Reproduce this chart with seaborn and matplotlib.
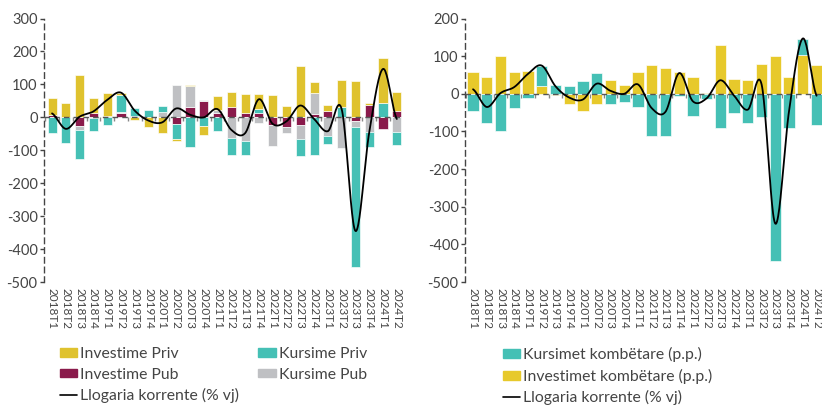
import numpy as np
import pandas as pd
import matplotlib
matplotlib.use("Agg")
import matplotlib.pyplot as plt
import seaborn as sns
from matplotlib.patches import Patch
from matplotlib.lines import Line2D

# ---------------- data ----------------
periods = ["2018T1", "2018T2", "2018T3", "2018T4", "2019T1", "2019T2", "2019T3", "2019T4",
           "2020T1", "2020T2", "2020T3", "2020T4", "2021T1", "2021T2", "2021T3", "2021T4",
           "2022T1", "2022T2", "2022T3", "2022T4", "2023T1", "2023T2", "2023T3", "2023T4",
           "2024T1", "2024T2"]

investime_priv = [51, 44, 129, 46, 68, 7, -8, -30, -47, -4, 4, -27, 44, 48, 58, 45,
                  68, 35, 157, 31, 20, 82, 110, 5, 136, 57]
investime_pub = [7, 0, -26, 12, 0, 13, 5, 0, 0, -20, 32, 50, 14, 30, 12, 14,
                 -24, -30, -23, 10, 18, 0, -10, 38, -35, 19]
kursime_priv = [-47, -78, -89, -40, -22, 50, 24, 22, 17, -47, -89, -26, -41, -51, -43, 12,
                0, 0, -52, -115, -23, 32, -427, -45, 44, -37]
kursime_pub = [0, 0, -12, -2, 5, 4, 0, 0, 17, 99, 62, 3, 7, -64, -72, -18,
               -62, -18, -42, 65, -57, -94, -18, -44, 0, -46]

llogaria_korrente = [12, -35, 2, 18, 53, 75, 20, -10, -15, 27, 8, 0, 25, -38, -48, 55,
                     -20, -12, 36, -5, -42, 25, -345, -45, 147, -5]

kursimet_kombetare = [-45, -77, -98, -39, -11, 52, 24, 22, 33, 55, -28, -23, -34, -113, -111, -5,
                      -60, -13, -92, -52, -77, -62, -445, -90, 42, -83]
investimet_kombetare = [58, 44, 101, 58, 61, 22, -3, -28, -45, -27, 36, 24, 58, 76, 69, 59,
                        44, 3, 130, 40, 37, 79, 101, 44, 103, 77]

# ---------------- style ----------------
YELLOW_L = "#DFC22E"
YELLOW_R = "#E7C92B"
TEAL = "#45C0B5"
MAROON = "#8A1A4B"
GREY = "#BFC0C3"
TXT = "#444444"

sns.set_theme(style="white")
plt.rcParams["font.family"] = ["Lato", "DejaVu Sans"]
plt.rcParams["axes.unicode_minus"] = False

fig = plt.figure(figsize=(8.22, 4.07), dpi=100)
axL = fig.add_axes([0.0541, 0.307, 0.4362, 0.6475])
axR = fig.add_axes([0.5663, 0.307, 0.4346, 0.6475])

n = len(periods)
x = np.arange(n)


def stacked(ax, series, colors, width):
    pos = np.zeros(n)
    neg = np.zeros(n)
    for vals, c in zip(series, colors):
        v = np.asarray(vals, dtype=float)
        bottom = np.where(v >= 0, pos, neg)
        ax.bar(x, v, bottom=bottom, width=width, color=c,
               edgecolor=(1, 1, 1, 0.65), linewidth=0.7, zorder=2)
        pos += np.where(v > 0, v, 0)
        neg += np.where(v < 0, v, 0)


def smooth(y, k=24):
    y = np.asarray(y, dtype=float)
    xs, ys = [], []
    m = len(y)
    for i in range(m - 1):
        p0 = y[i - 1] if i > 0 else y[i]
        p3 = y[i + 2] if i + 2 < m else y[i + 1]
        p1, p2 = y[i], y[i + 1]
        c1 = p1 + (p2 - p0) / 6.0
        c2 = p2 - (p3 - p1) / 6.0
        t = np.linspace(0, 1, k, endpoint=(i == m - 2))
        ys.append((1 - t) ** 3 * p1 + 3 * (1 - t) ** 2 * t * c1 + 3 * (1 - t) * t ** 2 * c2 + t ** 3 * p2)
        xs.append(i + t)
    return np.concatenate(xs), np.concatenate(ys)


def style_axis(ax, ymin, ymax):
    ax.set_xlim(-0.55, n - 0.55)
    ax.set_ylim(ymin, ymax)
    ax.set_yticks(np.arange(ymin, ymax + 1, 100))
    ax.set_yticklabels([str(v) for v in range(ymin, ymax + 1, 100)])
    ax.set_xticks(x)
    ax.set_xticklabels(periods, rotation=270, fontsize=8.5, color=TXT)
    ax.tick_params(axis="x", length=0, pad=4)
    ax.tick_params(axis="y", left=True, length=3, width=1, color=TXT, labelsize=10.5,
                   labelcolor=TXT, pad=2, direction="out")
    for s in ["top", "right", "bottom"]:
        ax.spines[s].set_visible(False)
    ax.spines["left"].set_linestyle((0, (4, 3)))
    ax.spines["left"].set_color(TXT)
    ax.spines["left"].set_linewidth(1.0)
    ax.axhline(0, color="#555555", linestyle=(0, (4, 3)), linewidth=1.0, zorder=3)
    frac = (0 - ymin) / (ymax - ymin)
    sec = ax.secondary_xaxis(frac)
    sec.set_xticks(np.arange(-0.5, n, 1.0))
    sec.set_xticklabels([])
    for s in sec.spines.values():
        s.set_visible(False)
    sec.xaxis.set_ticks_position("bottom")
    sec.tick_params(axis="x", length=3, width=1, color="#888888", direction="out")
    ax.grid(False)


# ---------------- left chart ----------------
stacked(axL, [investime_pub, kursime_pub, kursime_priv, investime_priv],
        [MAROON, GREY, TEAL, YELLOW_L], 0.66)
xs, ys = smooth(llogaria_korrente)
sns.lineplot(x=xs, y=ys, ax=axL, color="black", linewidth=1.3, sort=False, estimator=None, zorder=4)
style_axis(axL, -500, 300)

# ---------------- right chart ----------------
stacked(axR, [investimet_kombetare, kursimet_kombetare], [YELLOW_R, TEAL], 0.82)
sns.lineplot(x=xs, y=ys, ax=axR, color="black", linewidth=1.3, sort=False, estimator=None, zorder=4)
style_axis(axR, -500, 200)

# ---------------- legends ----------------
leg_kw = dict(frameon=False, fontsize=11.3, handlelength=1.1, handleheight=0.5,
              handletextpad=0.2, labelspacing=0.42, borderpad=0, borderaxespad=0)

legL = fig.legend(
    handles=[Patch(color=YELLOW_L), Patch(color=MAROON), Line2D([], [], color="black", lw=1.2),
             Patch(color=TEAL), Patch(color=GREY)],
    labels=["Investime Priv", "Investime Pub", "Llogaria korrente (% vj)", "Kursime Priv", "Kursime Pub"],
    ncol=2, loc="upper left", bbox_to_anchor=(60 / 822, 1 - 347 / 407),
    columnspacing=1.2, **leg_kw)
for t in legL.get_texts():
    t.set_color(TXT)

legR = fig.legend(
    handles=[Patch(color=TEAL), Patch(color=YELLOW_R), Line2D([], [], color="black", lw=1.2)],
    labels=["Kursimet kombëtare (p.p.)", "Investimet kombëtare (p.p.)", "Llogaria korrente (% vj)"],
    ncol=1, loc="upper left", bbox_to_anchor=(503 / 822, 1 - 347 / 407), **leg_kw)
for t in legR.get_texts():
    t.set_color(TXT)

fig.savefig("out.png", dpi=100)
